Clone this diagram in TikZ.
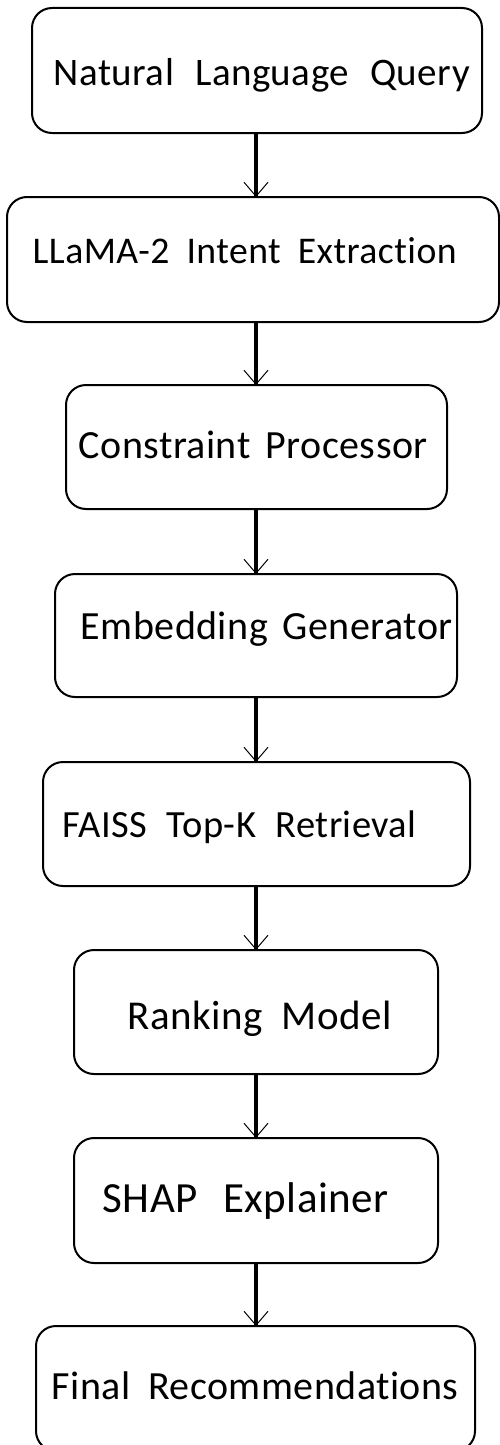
\documentclass[tikz,border=0pt]{standalone}
\usepackage{fontspec}
\setmainfont{Carlito}[Ligatures=NoCommon, LetterSpace=1.2]
\usetikzlibrary{arrows.meta}
\newcommand{\fs}[1]{\fontsize{#1}{#1}\selectfont}
\begin{document}
\begin{tikzpicture}[x=1pt,y=-1pt,
  stage/.style={draw=black, line width=2pt, rounded corners=20pt, inner sep=0pt, outer sep=0pt},
  caption/.style={anchor=base west, inner sep=0pt},
  flow/.style={line width=3.2pt, -{Straight Barb[length=14pt, width=24pt, line width=1pt]}}]
  \useasboundingbox (0,0) rectangle (500,1445);

  % pipeline stages
  \node[stage, minimum width=450pt, minimum height=125pt] (b1) at (257,70.5) {};
  \node[stage, minimum width=492pt, minimum height=125pt] (b2) at (253,259.5) {};
  \node[stage, minimum width=381pt, minimum height=124pt] (b3) at (256.5,447) {};
  \node[stage, minimum width=402pt, minimum height=123pt] (b4) at (256,635.5) {};
  \node[stage, minimum width=427pt, minimum height=124pt] (b5) at (256.5,824) {};
  \node[stage, minimum width=364pt, minimum height=124pt] (b6) at (256,1012) {};
  \node[stage, minimum width=364pt, minimum height=125pt] (b7) at (256,1200.5) {};
  \node[stage, minimum width=439pt, minimum height=125pt] (b8) at (255.5,1388.5) {};

  % stage captions, spread to their set widths
  \node[caption, font=\fs{39}] (t1) at (53.5,85) {\makebox[416pt][s]{Natural Language Query}};
  \node[caption, font=\fs{37.7}] (t2) at (32.5,263) {\makebox[424pt][s]{LLaMA-2 Intent Extraction}};
  \node[caption, font=\fs{40}] (t3) at (78.5,458) {\makebox[349pt][s]{Constraint Processor}};
  \node[caption, font=\fs{40}] (t4) at (80.5,639) {\makebox[372pt][s]{Embedding Generator}};
  \node[caption, font=\fs{38.5}] (t5) at (62.5,837) {\makebox[354pt][s]{FAISS Top-K Retrieval}};
  \node[caption, font=\fs{41}] (t6) at (127.5,1029) {\makebox[264pt][s]{Ranking Model}};
  \node[caption, font=\fs{43}] (t7) at (102.5,1212) {\makebox[286pt][s]{SHAP Explainer}};
  \node[caption, font=\fs{40}] (t8) at (51.5,1399) {\makebox[407pt][s]{Final Recommendations}};

  % connectors
  \coordinate (ax) at (256,0);
  \draw[flow] (b1.south -| ax) -- (b2.north -| ax);
  \draw[flow] (b2.south -| ax) -- (b3.north -| ax);
  \draw[flow] (b3.south -| ax) -- (b4.north -| ax);
  \draw[flow] (b4.south -| ax) -- (b5.north -| ax);
  \draw[flow] (b5.south -| ax) -- (b6.north -| ax);
  \draw[flow] (b6.south -| ax) -- (b7.north -| ax);
  \draw[flow] (b7.south -| ax) -- (b8.north -| ax);
\end{tikzpicture}
\end{document}
